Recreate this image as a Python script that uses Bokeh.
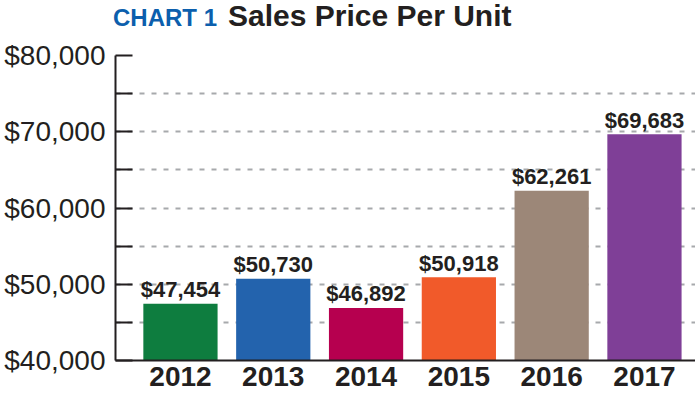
from bokeh.plotting import figure
from bokeh.models import Range1d, FixedTicker, ColumnDataSource, Div
from bokeh.layouts import column
from bokeh.core.properties import value
from bokeh.embed import file_html
from bokeh.resources import INLINE

years = ["2012", "2013", "2014", "2015", "2016", "2017"]
prices = [47454, 50730, 46892, 50918, 62261, 69683]
colors = ["#0e7d3f", "#2363ad", "#b6004f", "#f15a2a", "#9c8778", "#7f3f97"]
y_ticks = [40000, 45000, 50000, 55000, 60000, 65000, 70000, 75000, 80000]
title_tag = "CHART 1"
title_text = "Sales Price Per Unit"

idx = list(range(len(years)))
labels = ["${:,}".format(v) for v in prices]
src = ColumnDataSource(dict(x=idx, top=prices, color=colors, label=labels))

DARK = "#231f20"

title = Div(
    text=(
        '<div style="position:relative;width:695px;height:30px;overflow:visible;">'
        '<span style="position:absolute;left:113px;top:6px;line-height:1;'
        "font-family:'Liberation Sans';font-weight:bold;font-size:24px;color:#0c5fad;"
        'white-space:nowrap;">' + title_tag + '</span>'
        '<span style="position:absolute;left:228px;top:1px;line-height:1;'
        "font-family:'Liberation Sans';font-weight:bold;font-size:30px;color:#231f20;"
        'white-space:nowrap;">' + title_text + '</span></div>'
    ),
    width=695, height=30, margin=0,
)

p = figure(width=695, height=367, output_backend="svg", toolbar_location=None,
           x_range=Range1d(-0.70, 5.55), y_range=Range1d(40000, 80000),
           min_border_left=115, min_border_right=0, min_border_top=25, min_border_bottom=37,
           margin=0)
p.outline_line_color = None
p.background_fill_color = "white"
p.border_fill_color = "white"

p.vbar(x="x", top="top", bottom=40000, width=0.8, fill_color="color",
       line_color=None, source=src)

p.text(x="x", y="top", text="label", source=src, text_align="center",
       text_baseline="alphabetic", y_offset=-14,
       text_font=value("Liberation Sans"),
       text_font_style="bold", text_font_size="22px", text_color=DARK)

# grid
p.xgrid.grid_line_color = None
p.ygrid.ticker = FixedTicker(ticks=y_ticks)
p.ygrid.grid_line_color = "#a7a9ac"
p.ygrid.grid_line_width = 2
p.ygrid.grid_line_dash = "5 7"

# y axis
ya = p.yaxis[0]
ya.ticker = FixedTicker(ticks=y_ticks)
ya.major_label_overrides = {t: ("${:,}".format(t) if t % 10000 == 0 else "") for t in y_ticks}
ya.major_tick_in = 17
ya.major_tick_out = 0
ya.minor_tick_line_color = None
ya.major_tick_line_width = 2
ya.major_tick_line_color = DARK
ya.axis_line_width = 2
ya.axis_line_color = DARK
ya.major_label_standoff = 10
ya.major_label_text_font = "Liberation Sans"
ya.major_label_text_font_size = "28px"
ya.major_label_text_color = DARK

# x axis
xa = p.xaxis[0]
xa.ticker = FixedTicker(ticks=idx)
xa.major_label_overrides = {i: y for i, y in zip(idx, years)}
xa.major_tick_in = 0
xa.major_tick_out = 0
xa.minor_tick_line_color = None
xa.axis_line_width = 2
xa.axis_line_color = DARK
xa.major_label_standoff = 6
xa.major_label_text_font = "Liberation Sans"
xa.major_label_text_font_style = "bold"
xa.major_label_text_font_size = "28px"
xa.major_label_text_color = DARK

layout = column(title, p, spacing=0, margin=0)
open("out.html", "w").write(file_html(layout, INLINE))
